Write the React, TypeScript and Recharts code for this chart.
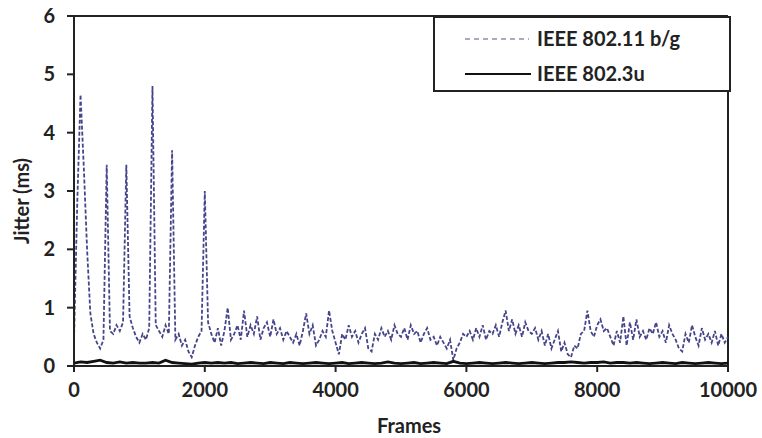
import React from 'react';
import { LineChart, Line, XAxis, YAxis, ReferenceLine } from 'recharts';

const xTicks = [0, 2000, 4000, 6000, 8000, 10000];
const yTicks = [0, 1, 2, 3, 4, 5, 6];

// IEEE 802.11 b/g jitter, one value every 50 frames (0..10000)
const wifiStep = 50;
const wifiJitter = [
  0.45, 2.8, 4.65, 3.4, 2.0, 0.9, 0.55, 0.4, 0.3, 0.45,
  3.45, 0.6, 0.55, 0.7, 0.6, 0.75, 3.45, 0.85, 0.65, 0.5,
  0.4, 0.55, 0.45, 0.65, 4.8, 0.7, 0.6, 0.5, 0.7, 0.55,
  3.7, 0.45, 0.55, 0.35, 0.45, 0.25, 0.15, 0.35, 0.5, 0.6,
  3.0, 0.75, 0.55, 0.4, 0.65, 0.35, 0.6, 1.0, 0.45, 0.55,
  0.7, 0.45, 0.95, 0.5, 0.7, 0.55, 0.85, 0.45, 0.65, 0.75,
  0.5, 0.8, 0.55, 0.65, 0.45, 0.6, 0.5, 0.4, 0.55, 0.35,
  0.6, 0.9, 0.55, 0.7, 0.35, 0.45, 0.6, 0.5, 0.95, 0.6,
  0.4, 0.2, 0.55, 0.45, 0.7, 0.5, 0.6, 0.4, 0.55, 0.65,
  0.3, 0.25, 0.55, 0.45, 0.65, 0.5, 0.6, 0.45, 0.7, 0.55,
  0.5, 0.65, 0.45, 0.7, 0.55, 0.6, 0.4, 0.55, 0.65, 0.45,
  0.5, 0.35, 0.5, 0.4, 0.3, 0.45, 0.1, 0.3, 0.4, 0.55,
  0.5, 0.6, 0.45, 0.65, 0.5, 0.7, 0.45, 0.6, 0.55, 0.7,
  0.5, 0.75, 0.95, 0.6, 0.8, 0.55, 0.7, 0.5, 0.75, 0.6,
  0.55, 0.65, 0.45, 0.6, 0.35, 0.55, 0.3, 0.45, 0.6, 0.25,
  0.4, 0.2, 0.15, 0.35, 0.3, 0.55, 0.6, 0.95, 0.6, 0.5,
  0.7, 0.8, 0.6, 0.65, 0.5, 0.35, 0.6, 0.4, 0.85, 0.35,
  0.75, 0.45, 0.8, 0.5, 0.6, 0.45, 0.65, 0.55, 0.75, 0.5,
  0.6, 0.4, 0.7, 0.55, 0.45, 0.3, 0.25, 0.55, 0.4, 0.7,
  0.5, 0.35, 0.65, 0.45, 0.55, 0.4, 0.6, 0.35, 0.55, 0.4,
  0.5,
];

// IEEE 802.3u jitter, one value every 100 frames (0..10000)
const ethStep = 100;
const ethJitter = [
  0.05, 0.07, 0.06, 0.08, 0.1, 0.06, 0.05, 0.07, 0.05, 0.06,
  0.05, 0.05, 0.06, 0.05, 0.1, 0.06, 0.05, 0.04, 0.03, 0.05,
  0.06, 0.05, 0.06, 0.05, 0.06, 0.04, 0.05, 0.06, 0.05, 0.04,
  0.06, 0.05, 0.04, 0.06, 0.05, 0.04, 0.05, 0.06, 0.05, 0.04,
  0.05, 0.06, 0.04, 0.05, 0.06, 0.05, 0.04, 0.05, 0.07, 0.05,
  0.04, 0.05, 0.06, 0.04, 0.05, 0.06, 0.05, 0.04, 0.08, 0.05,
  0.04, 0.05, 0.06, 0.05, 0.04, 0.05, 0.06, 0.05, 0.04, 0.05,
  0.06, 0.05, 0.04, 0.05, 0.06, 0.06, 0.07, 0.06, 0.05, 0.06,
  0.06, 0.07, 0.05, 0.06, 0.06, 0.05, 0.06, 0.05, 0.04, 0.05,
  0.06, 0.05, 0.04, 0.06, 0.05, 0.04, 0.05, 0.06, 0.05, 0.04,
  0.05,
];

const wifiData = wifiJitter.map((v, i) => ({ frame: i * wifiStep, jitter: v }));
const ethData = ethJitter.map((v, i) => ({ frame: i * ethStep, jitter: v }));

const FONT = 'Lato, "Open Sans", sans-serif';
const tickStyle = { fontFamily: FONT, fontWeight: 700, fontSize: 20, fill: '#222' };

export default function App() {
  return (
    <div style={{ position: 'absolute', left: 0, top: 0, width: 762, height: 438, background: '#fff' }}>
      <LineChart width={762} height={438} data={wifiData} margin={{ top: 16, right: 34, bottom: 32, left: 14 }}>
        <XAxis
          dataKey="frame"
          type="number"
          domain={[0, 10000]}
          ticks={xTicks}
          interval={0}
          tickSize={6}
          tickMargin={11}
          height={40}
          stroke="#222"
          strokeWidth={2}
          tick={tickStyle}
          allowDuplicatedCategory={false}
        />
        <YAxis
          type="number"
          domain={[0, 6]}
          ticks={yTicks}
          interval={0}
          tickSize={7}
          tickMargin={12}
          width={60}
          stroke="#222"
          strokeWidth={2}
          tick={tickStyle}
        />
        <ReferenceLine y={6} stroke="#222" strokeWidth={2} />
        <ReferenceLine x={10000} stroke="#222" strokeWidth={2} />
        <Line
          data={wifiData}
          dataKey="jitter"
          type="linear"
          stroke="#45458a"
          strokeWidth={1.8}
          strokeDasharray="4 2"
          dot={false}
          isAnimationActive={false}
        />
        <Line
          data={ethData}
          dataKey="jitter"
          type="linear"
          stroke="#111"
          strokeWidth={2.8}
          dot={false}
          isAnimationActive={false}
        />
      </LineChart>
      <div
        style={{
          position: 'absolute', left: 8, top: 201, width: 26, height: 0,
          display: 'flex', alignItems: 'center', justifyContent: 'center',
        }}
      >
        <div
          style={{
            transform: 'rotate(-90deg)', whiteSpace: 'nowrap',
            fontFamily: FONT, fontWeight: 700, fontSize: 20, color: '#222',
          }}
        >
          Jitter (ms)
        </div>
      </div>
      <div
        style={{
          position: 'absolute', left: 309, width: 200, top: 413, textAlign: 'center',
          fontFamily: FONT, fontWeight: 700, fontSize: 20, color: '#222', lineHeight: '24px',
        }}
      >
        Frames
      </div>
      <div
        style={{
          position: 'absolute', left: 433, top: 16, width: 294, height: 72,
          border: '2px solid #222', background: '#fff', boxSizing: 'content-box',
          fontFamily: FONT, fontWeight: 700, fontSize: 20, color: '#222',
        }}
      >
        <svg width={70} height={72} style={{ position: 'absolute', left: 28, top: 0 }}>
          <line x1={2} y1={21} x2={66} y2={21} stroke="#8a8fb5" strokeWidth={1.5} strokeDasharray="5 4" />
          <line x1={2} y1={56} x2={68} y2={56} stroke="#111" strokeWidth={2} />
        </svg>
        <div style={{ position: 'absolute', left: 102, top: 7, lineHeight: '26px', whiteSpace: 'nowrap' }}>
          IEEE 802.11 b/g
        </div>
        <div style={{ position: 'absolute', left: 102, top: 42, lineHeight: '26px', whiteSpace: 'nowrap' }}>
          IEEE 802.3u
        </div>
      </div>
    </div>
  );
}
